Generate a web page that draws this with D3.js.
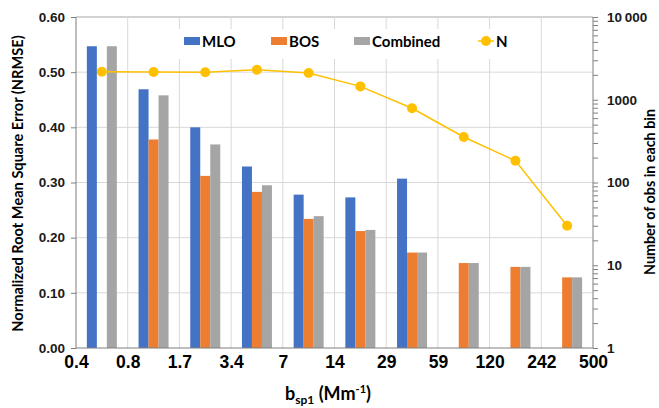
<!DOCTYPE html>
<html>
<head>
<meta charset="utf-8">
<script src="https://cdn.jsdelivr.net/npm/d3@7"></script>
<style>
  body { margin: 0; background: #fff; }
  svg { font-family: Lato, "Open Sans", sans-serif; font-weight: bold; }
</style>
</head>
<body>
<div id="chart"></div>
<script>
// bins and their edges
const bins = ["b1", "b2", "b3", "b4", "b5", "b6", "b7", "b8", "b9", "b10"];
const edges = ["0.4", "0.8", "1.7", "3.4", "7", "14", "29", "59", "120", "242", "500"];

// NRMSE per bin (null = no bar)
const mlo = [0.547, 0.469, 0.400, 0.329, 0.278, 0.273, 0.307, null, null, null];
const bos = [null, 0.378, 0.312, 0.283, 0.234, 0.212, 0.173, 0.154, 0.147, 0.128];
const combined = [0.547, 0.458, 0.369, 0.295, 0.239, 0.214, 0.173, 0.154, 0.147, 0.128];

// number of observations in each bin
const nObs = [2180, 2160, 2150, 2300, 2100, 1450, 790, 355, 183, 30];

const seriesNames = ["MLO", "BOS", "Combined"];
const seriesColors = { MLO: "#4472C4", BOS: "#ED7D31", Combined: "#A5A5A5" };
const lineColor = "#FFC000";

const width = 659, height = 408;
const margin = { top: 17, right: 66, bottom: 60, left: 76 };
const plotW = width - margin.left - margin.right;   // 517
const plotH = height - margin.top - margin.bottom;  // 331

const svg = d3.select("#chart").append("svg")
    .attr("width", width)
    .attr("height", height);

const g = svg.append("g").attr("transform", `translate(${margin.left},${margin.top})`);

// scales
const x = d3.scaleBand().domain(bins).range([0, plotW]).paddingInner(0).paddingOuter(0);
const xEdge = d3.scalePoint().domain(edges).range([0, plotW]);
const xSeries = d3.scaleBand().domain(seriesNames).range([0, x.bandwidth()])
    .paddingInner(0).paddingOuter(1.085);
const y = d3.scaleLinear().domain([0, 0.6]).range([plotH, 0]);
const yN = d3.scaleLog().domain([1, 10000]).range([plotH, 0]);

// gridlines
g.append("g").selectAll("line")
    .data(y.ticks(6).filter(d => d > 0))
    .enter().append("line")
    .attr("x1", 0).attr("x2", plotW)
    .attr("y1", d => y(d)).attr("y2", d => y(d))
    .attr("stroke", d => d >= 0.6 ? "#a6a6a6" : "#d9d9d9")
    .attr("stroke-width", 1);

g.append("g").selectAll("line")
    .data(edges.slice(1, -1))
    .enter().append("line")
    .attr("x1", d => xEdge(d)).attr("x2", d => xEdge(d))
    .attr("y1", 0).attr("y2", plotH)
    .attr("stroke", "#d9d9d9")
    .attr("stroke-width", 1);

// bars
const seriesData = { MLO: mlo, BOS: bos, Combined: combined };
seriesNames.forEach(name => {
    g.append("g").selectAll("rect")
        .data(bins.map((b, i) => ({ bin: b, v: seriesData[name][i] })).filter(d => d.v != null))
        .enter().append("rect")
        .attr("x", d => x(d.bin) + xSeries(name))
        .attr("width", xSeries.bandwidth())
        .attr("y", d => y(d.v))
        .attr("height", d => plotH - y(d.v))
        .attr("fill", seriesColors[name]);
});

// left axis
const yAxis = g.append("g")
    .call(d3.axisLeft(y).ticks(6).tickFormat(d3.format(".2f")).tickSize(5).tickPadding(6));
yAxis.select(".domain").attr("stroke", "#7f7f7f").attr("d", `M0,0V${plotH}`);
yAxis.selectAll(".tick line").attr("stroke", "#7f7f7f");
yAxis.selectAll(".tick text").attr("font-size", 13.5).attr("fill", "#1a1a1a");

// bottom axis
const xAxis = g.append("g")
    .attr("transform", `translate(0,${plotH})`)
    .call(d3.axisBottom(xEdge).tickSize(0).tickPadding(8));
xAxis.select(".domain").attr("stroke", "#7f7f7f").attr("d", `M0,0H${plotW}`);
xAxis.selectAll(".tick text").attr("font-size", 17.5).attr("fill", "#000");

// right axis (log)
const nTicks = [];
for (let p = 0; p < 4; p++) for (let k = 1; k < 10; k++) nTicks.push(k * Math.pow(10, p));
nTicks.push(10000);
const rAxis = g.append("g")
    .attr("transform", `translate(${plotW},0)`)
    .call(d3.axisRight(yN).tickValues(nTicks).tickSize(5).tickPadding(9)
        .tickFormat(d => {
            const l = Math.log10(d);
            if (Math.abs(l - Math.round(l)) > 1e-9) return "";
            return d === 10000 ? "10\u2009000" : String(d);
        }));
rAxis.select(".domain").attr("stroke", "#7f7f7f").attr("d", `M0,0V${plotH}`);
rAxis.selectAll(".tick line").attr("stroke", "#7f7f7f");
rAxis.selectAll(".tick text").attr("font-size", 13.5).attr("fill", "#1a1a1a");

// N line
const line = d3.line()
    .x((d, i) => x(bins[i]) + x.bandwidth() / 2)
    .y(d => yN(d));
g.append("path")
    .datum(nObs)
    .attr("d", line)
    .attr("fill", "none")
    .attr("stroke", lineColor)
    .attr("stroke-width", 1.5);
g.append("g").selectAll("circle")
    .data(nObs)
    .enter().append("circle")
    .attr("cx", (d, i) => x(bins[i]) + x.bandwidth() / 2)
    .attr("cy", d => yN(d))
    .attr("r", 5)
    .attr("fill", lineColor);

// legend
const legend = svg.append("g");
legend.append("rect")
    .attr("x", 178).attr("y", 29).attr("width", 356).attr("height", 30)
    .attr("fill", "#fff");
const legendItems = [
    { name: "MLO", x: 184 },
    { name: "BOS", x: 271 },
    { name: "Combined", x: 354 }
];
legendItems.forEach(it => {
    legend.append("rect")
        .attr("x", it.x).attr("y", 37).attr("width", 16).attr("height", 8)
        .attr("fill", seriesColors[it.name]);
    legend.append("text")
        .attr("x", it.x + 18).attr("y", 46.5)
        .attr("font-size", 15)
        .text(it.name);
});
legend.append("line")
    .attr("x1", 478).attr("x2", 494).attr("y1", 41).attr("y2", 41)
    .attr("stroke", lineColor).attr("stroke-width", 1.5);
legend.append("circle").attr("cx", 486).attr("cy", 41).attr("r", 5).attr("fill", lineColor);
legend.append("text").attr("x", 496).attr("y", 46.5).attr("font-size", 15).text("N");

// axis titles
svg.append("text")
    .attr("transform", `translate(23,${margin.top + plotH / 2 + 1}) rotate(-90)`)
    .attr("text-anchor", "middle")
    .attr("font-size", 14.6)
    .text("Normalized Root Mean Square Error (NRMSE)");

svg.append("text")
    .attr("transform", `translate(655,192) rotate(-90)`)
    .attr("text-anchor", "middle")
    .attr("font-size", 14.3)
    .text("Number of obs in each bin");

const xt = svg.append("text")
    .attr("x", 328).attr("y", 400)
    .attr("text-anchor", "middle")
    .attr("font-size", 18);
xt.append("tspan").text("b");
xt.append("tspan").attr("font-size", 12).attr("dy", 4).text("sp1");
xt.append("tspan").attr("dy", -4).text(" (Mm");
xt.append("tspan").attr("font-size", 11).attr("dy", -7).text("-1");
xt.append("tspan").attr("dy", 7).text(")");
</script>
</body>
</html>
